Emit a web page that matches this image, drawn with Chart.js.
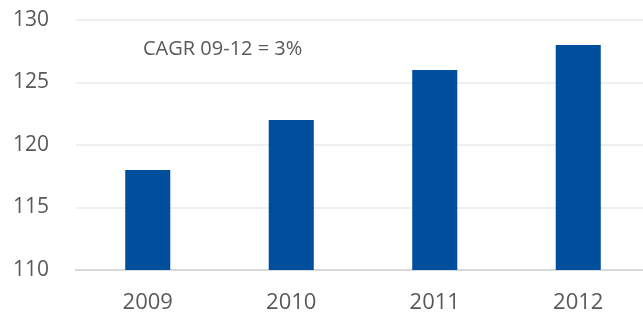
<!DOCTYPE html>
<html>
<head>
<meta charset="utf-8">
<script src="https://cdn.jsdelivr.net/npm/chart.js@4"></script>
<style>
  html, body { margin: 0; padding: 0; background: #fff; overflow: hidden; }
  #wrap { width: 643px; height: 314px; overflow: hidden; }
</style>
</head>
<body>
<div id="wrap"><canvas id="growthChart" width="650" height="314"></canvas></div>
<script>
const years = ['2009', '2010', '2011', '2012'];
const values = [118, 122, 126, 128];
const yTicks = [110, 115, 120, 125, 130];
const note = 'CAGR 09-12 = 3%';

const noteLabel = {
    id: 'noteLabel',
    afterDraw(chart) {
        const ctx = chart.ctx;
        const area = chart.chartArea;
        ctx.save();
        ctx.font = '20px "Open Sans"';
        ctx.fillStyle = '#595959';
        ctx.textAlign = 'left';
        ctx.textBaseline = 'middle';
        ctx.fillText(note, area.left + 67, area.top + 29);
        ctx.restore();
    }
};

const chart = new Chart(
    document.getElementById('growthChart'),
    {
        type: 'bar',
        data: {
            labels: years,
            datasets: [
                {
                    data: values,
                    backgroundColor: '#004f9d',
                    barPercentage: 0.314,
                    categoryPercentage: 1.0
                }
            ]
        },
        options: {
            responsive: false,
            animation: false,
            layout: { padding: { top: 20, right: 0, left: 0, bottom: 0 } },
            plugins: {
                legend: { display: false },
                tooltip: { enabled: false }
            },
            scales: {
                x: {
                    grid: { display: false },
                    border: { display: true, color: '#d9d9d9', width: 2 },
                    ticks: { color: '#595959', font: { family: 'Open Sans', size: 22 }, padding: 12 },
                    afterFit(scale) { scale.height = 44; }
                },
                y: {
                    min: 110,
                    max: 130,
                    afterBuildTicks(scale) { scale.ticks = yTicks.map(v => ({ value: v })); },
                    grid: { color: '#efefef', lineWidth: 2, drawTicks: false },
                    border: { display: false },
                    ticks: { color: '#595959', font: { family: 'Open Sans', size: 21 }, padding: 27 },
                    afterFit(scale) {
                        scale.width = 76;
                        scale.paddingTop = 0;
                        scale.paddingBottom = 0;
                    }
                }
            }
        },
        plugins: [noteLabel]
    }
);
</script>
</body>
</html>
